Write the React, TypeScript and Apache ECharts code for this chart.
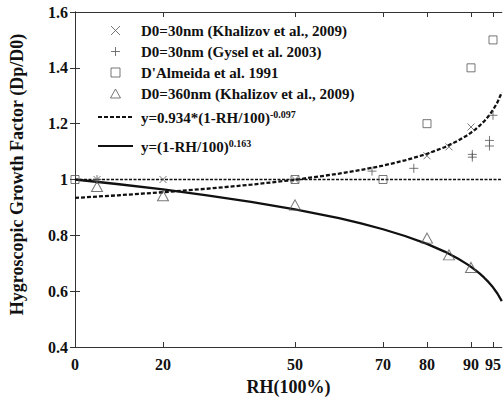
import React, { useEffect, useRef } from "react";
import * as echarts from "echarts";

// ---------- data ----------
const X_TICKS = [0, 20, 50, 70, 80, 90, 95];
const X_MAX = 97;

const KHAL30_NAME = "D0=30nm (Khalizov et al., 2009)";
const KHAL30_RH = [5, 20, 50, 80, 85, 90];
const KHAL30_GF = [1.0, 1.0, 1.0, 1.085, 1.117, 1.188];

const GYSEL_NAME = "D0=30nm (Gysel et al. 2003)";
const GYSEL_RH = [5, 67.5, 77, 90.3, 90.3, 94.2, 94.2, 95];
const GYSEL_GF = [1.0, 1.03, 1.04, 1.08, 1.09, 1.12, 1.14, 1.23];

const DALM_NAME = "D'Almeida et al. 1991";
const DALM_RH = [0, 50, 70, 80, 90, 95];
const DALM_GF = [1.0, 1.0, 1.0, 1.2, 1.4, 1.5];

const KHAL360_NAME = "D0=360nm (Khalizov et al., 2009)";
const KHAL360_RH = [5, 20, 50, 80, 85, 90];
const KHAL360_GF = [0.975, 0.942, 0.909, 0.79, 0.73, 0.685];

// fitted curves, sampled values
const FIT_RH = [0, 10, 20, 30, 40, 50, 60, 65, 70, 75, 80, 84, 87, 89, 90, 91, 92, 93, 94, 95, 96, 97];
const FIT1_NAME = "fit1";
const FIT1_GF = [0.934, 0.9436, 0.9544, 0.9669, 0.9814, 0.999, 1.0208, 1.0341, 1.0497, 1.0684, 1.0918, 1.1157, 1.1384, 1.157, 1.1677, 1.1797, 1.1933, 1.2088, 1.2271, 1.249, 1.2763, 1.3124];
const FIT2_NAME = "fit2";
const FIT2_GF = [1.0, 0.983, 0.9643, 0.9435, 0.9201, 0.8932, 0.8613, 0.8427, 0.8218, 0.7977, 0.7693, 0.7418, 0.7171, 0.6978, 0.6871, 0.6754, 0.6625, 0.6483, 0.6322, 0.6137, 0.5918, 0.5646];

const REF_RH = [0, 97];
const REF_GF = [1, 1];

const zip = (xs: number[], ys: number[]) => xs.map((x, i) => [x, ys[i]]);

const FONT = "Liberation Serif";
const MARK = "#555";
const INK = "#111";

const CROSS = "path://M0,0L10,10M0,10L10,0";
const PLUS = "path://M5,0L5,10M0,5L10,5";
const RECT = "path://M0,0L10,0L10,10L0,10Z";
const TRI = "path://M5,0L10,9L0,9Z";

export default function App() {
  const ref = useRef<HTMLDivElement>(null);
  useEffect(() => {
    const chart = echarts.init(ref.current!, null, { renderer: "svg" });
    const markerStyle = { color: "none", borderColor: MARK, borderWidth: 1 };
    const hidden = { color: "transparent", borderColor: "transparent", borderWidth: 0 };
    const txt = { fontFamily: FONT, fontWeight: "bold", color: INK };
    const legendCommon = {
      orient: "vertical",
      left: 92,
      itemWidth: 35,
      itemHeight: 9,
      itemGap: 6,
      symbolKeepAspect: true,
      textStyle: {
        ...txt,
        fontSize: 15,
        padding: [0, 0, 0, 3],
        rich: {
          m: { ...txt, fontSize: 15, lineHeight: 16 },
          m2: { ...txt, fontSize: 15, lineHeight: 16, verticalAlign: "bottom", padding: [3, 0, 0, 0] },
          s: { ...txt, fontSize: 10, lineHeight: 10, verticalAlign: "top" },
        },
      },
      formatter: (name: string) => {
        if (name === FIT1_NAME) return "{m2|y=0.934*(1-RH/100)}{s|-0.097}";
        if (name === FIT2_NAME) return "{m2|y=(1-RH/100)}{s|0.163}";
        return "{m|" + name + "}";
      },
    };
    const axisLine = { show: true, lineStyle: { color: "#333", width: 1 } };
    const option: any = {
      animation: false,
      backgroundColor: "#fff",
      textStyle: { fontFamily: FONT },
      grid: { left: 75, right: 1, top: 12, bottom: 59 },
      legend: [
        {
          ...legendCommon,
          top: 18,
          data: [
            { name: KHAL30_NAME, icon: CROSS, itemStyle: markerStyle },
            { name: GYSEL_NAME, icon: PLUS, itemStyle: markerStyle },
            { name: DALM_NAME, icon: RECT, itemStyle: markerStyle },
            { name: KHAL360_NAME, icon: TRI, itemStyle: markerStyle },
            { name: FIT1_NAME, itemStyle: hidden },
          ],
        },
        { ...legendCommon, top: 131, data: [{ name: FIT2_NAME, itemStyle: hidden }] },
      ],
      xAxis: [
        {
          type: "value",
          position: "bottom",
          min: 0,
          max: X_MAX,
          axisLine,
          axisTick: { show: true, inside: true, length: 5, customValues: X_TICKS, lineStyle: { color: "#333" } },
          axisLabel: { customValues: X_TICKS, margin: 9, ...txt, fontSize: 16 },
          splitLine: { show: false },
          name: "RH(100%)",
          nameLocation: "middle",
          nameGap: 31,
          nameTextStyle: { ...txt, fontSize: 18 },
        },
        {
          type: "value",
          position: "top",
          min: 0,
          max: X_MAX,
          axisLine,
          axisTick: { show: true, inside: true, length: 5, customValues: X_TICKS, lineStyle: { color: "#333" } },
          axisLabel: { show: false },
          splitLine: { show: false },
        },
      ],
      yAxis: [
        {
          type: "value",
          position: "left",
          min: 0.4,
          max: 1.6,
          interval: 0.2,
          axisLine,
          axisTick: { show: true, inside: true, length: 5, lineStyle: { color: "#333" } },
          axisLabel: {
            margin: 7,
            ...txt,
            fontSize: 16,
            formatter: (v: number) => String(parseFloat(v.toFixed(1))),
          },
          splitLine: { show: false },
          name: "Hygroscopic Growth Factor (Dp/D0)",
          nameLocation: "middle",
          nameGap: 49,
          nameTextStyle: { ...txt, fontSize: 18, padding: [0, 0, 0, 10] },
        },
        {
          type: "value",
          position: "right",
          min: 0.4,
          max: 1.6,
          interval: 0.2,
          axisLine,
          axisTick: { show: true, inside: true, length: 5, lineStyle: { color: "#333" } },
          axisLabel: { show: false },
          splitLine: { show: false },
        },
      ],
      series: [
        {
          name: "ref",
          type: "line",
          data: zip(REF_RH, REF_GF),
          symbol: "none",
          itemStyle: hidden,
          lineStyle: { color: INK, width: 1.3, type: [3, 1.5] },
          z: 1,
        },
        {
          name: FIT1_NAME,
          type: "line",
          data: zip(FIT_RH, FIT1_GF),
          symbol: "none",
          itemStyle: hidden,
          lineStyle: { color: INK, width: 2.3, type: [4, 2] },
          z: 2,
        },
        {
          name: FIT2_NAME,
          type: "line",
          data: zip(FIT_RH, FIT2_GF),
          symbol: "none",
          itemStyle: hidden,
          lineStyle: { color: INK, width: 2.3, type: "solid" },
          z: 2,
        },
        { name: KHAL30_NAME, type: "scatter", data: zip(KHAL30_RH, KHAL30_GF), symbol: CROSS, symbolSize: 7, symbolKeepAspect: true, itemStyle: markerStyle, z: 3 },
        { name: GYSEL_NAME, type: "scatter", data: zip(GYSEL_RH, GYSEL_GF), symbol: PLUS, symbolSize: 9, symbolKeepAspect: true, itemStyle: markerStyle, z: 3 },
        { name: DALM_NAME, type: "scatter", data: zip(DALM_RH, DALM_GF), symbol: RECT, symbolSize: 8, symbolKeepAspect: true, itemStyle: markerStyle, z: 3 },
        { name: KHAL360_NAME, type: "scatter", data: zip(KHAL360_RH, KHAL360_GF), symbol: TRI, symbolSize: [11, 10], itemStyle: markerStyle, z: 3 },
      ],
    };
    chart.setOption(option);
    return () => chart.dispose();
  }, []);
  return (
    <div
      ref={ref}
      style={{ position: "fixed", left: 0, top: 0, width: 504, height: 406, background: "#fff" }}
    />
  );
}
